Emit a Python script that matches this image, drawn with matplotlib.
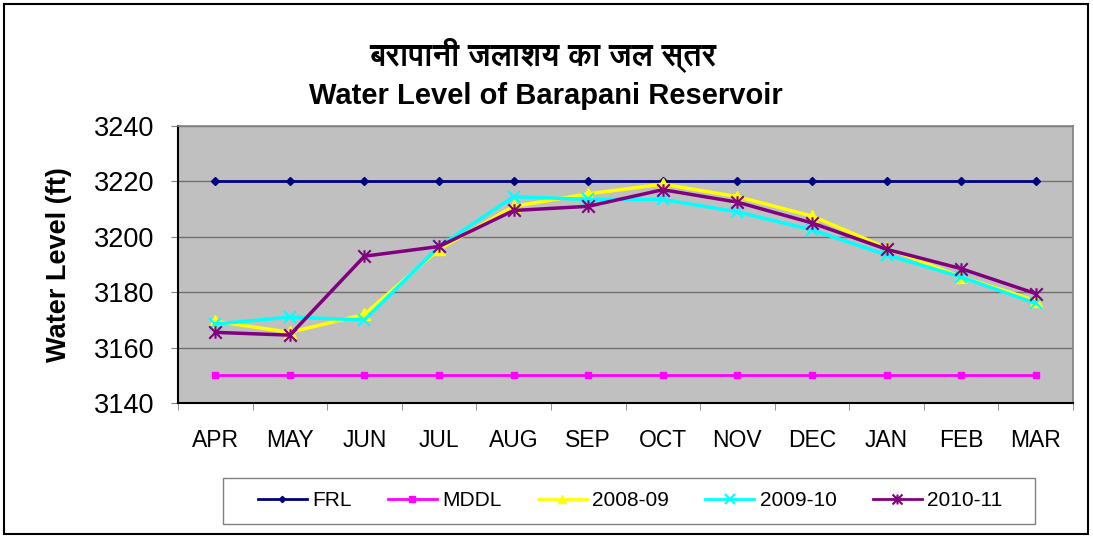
import matplotlib
matplotlib.use("Agg")
import matplotlib.pyplot as plt
from matplotlib import font_manager
from matplotlib.path import Path
from matplotlib.patches import Rectangle

months = ["APR", "MAY", "JUN", "JUL", "AUG", "SEP", "OCT", "NOV", "DEC", "JAN", "FEB", "MAR"]
frl = [3220] * 12
mddl = [3150] * 12
y2008 = [3169.5, 3165.5, 3172, 3195.5, 3211, 3215.5, 3219, 3214.5, 3207.5, 3196, 3185.5, 3177]
y2009 = [3168.5, 3171, 3170, 3196.5, 3214.5, 3213.5, 3213.5, 3209, 3202.5, 3193.5, 3185.5, 3176]
y2010 = [3165.5, 3164.5, 3193, 3196.5, 3209.5, 3211, 3217, 3212.5, 3205, 3195.5, 3188.5, 3179.5]
yticks = [3140, 3160, 3180, 3200, 3220, 3240]

title_hi = "बरापानी जलाशय का जल स्तर"
title_en = "Water Level of Barapani Reservoir"

names = {f.name for f in font_manager.fontManager.ttflist}
hi_family = ['FreeSans', 'DejaVu Sans'] if 'FreeSans' in names else ['DejaVu Sans']
plt.rcParams['font.family'] = ['Liberation Sans', 'DejaVu Sans']

# excel-like star marker: x with a vertical bar
star = Path([(0, -1), (0, 1), (-1, -1), (1, 1), (-1, 1), (1, -1)],
            [Path.MOVETO, Path.LINETO] * 3)

fig = plt.figure(figsize=(10.93, 5.38), dpi=100)
ax = fig.add_axes([178 / 1093, 1 - 403 / 538, 895 / 1093, 277 / 538])
ax.set_facecolor("#C0C0C0")

x = range(len(months))
ax.plot(x, frl, color="#000080", lw=2, marker="D", ms=4, label="FRL")
ax.plot(x, mddl, color="#FF00FF", lw=2, marker="s", ms=5, label="MDDL")
ax.plot(x, y2008, color="#FFFF00", lw=2.5, marker="^", ms=8, label="2008-09")
ax.plot(x, y2009, color="#00FFFF", lw=2.5, marker="x", ms=9, mew=1.5, label="2009-10")
ax.plot(x, y2010, color="#800080", lw=2.5, marker=star, ms=9, mew=1.5, label="2010-11")

ax.set_xlim(-0.5, 11.5)
ax.set_ylim(3140, 3240)
ax.set_yticks(yticks)
ax.set_xticks(list(x))
ax.set_xticklabels(months)
ax.set_xticks([i - 0.5 for i in range(13)], minor=True)
ax.tick_params(axis="x", which="major", length=0, pad=19, labelsize=16.5)
ax.tick_params(axis="x", which="minor", length=5, color="#808080")
ax.tick_params(axis="y", length=5, pad=12, labelsize=19.5, color="#808080")
ax.grid(axis="y", color="#707070", lw=1)
ax.set_axisbelow(True)
for s in ax.spines.values():
    s.set_color("#808080")
    s.set_linewidth(1.2)
ax.spines["left"].set_color("black")
ax.spines["bottom"].set_color("black")
ax.spines["left"].set_linewidth(1.5)
ax.spines["bottom"].set_linewidth(1.5)

ax.set_ylabel("Water Level (ft)", fontsize=19.5, fontweight="bold")
ax.yaxis.set_label_coords(-0.118, 0.5)

fig.text(543 / 1093, 1 - 55 / 538, title_hi, ha="center", va="center", fontsize=22,
         fontweight="bold", family=hi_family)
fig.text(546 / 1093, 1 - 96 / 538, title_en, ha="center", va="center", fontsize=21,
         fontweight="bold")

leg = fig.legend(loc="center", bbox_to_anchor=(630 / 1093, 1 - 501 / 538), ncol=5,
                 fontsize=15, frameon=False, handlelength=2.35, handletextpad=0.25,
                 columnspacing=1.75, borderpad=0.6, markerscale=0.8)
for h in leg.get_lines():
    h.set_linewidth(2)

# legend frame drawn separately (wide side padding as in the original)
fig.patches.append(Rectangle((223 / 1093, 1 - 524 / 538), 812 / 1093, 46 / 538, fill=False,
                             edgecolor="#808080", lw=1, transform=fig.transFigure))
fig.patches.append(Rectangle((4 / 1093, 4 / 538), 1084 / 1093, 530 / 538, fill=False,
                             edgecolor="black", lw=1.5, transform=fig.transFigure))

fig.savefig("out.png", dpi=100)
